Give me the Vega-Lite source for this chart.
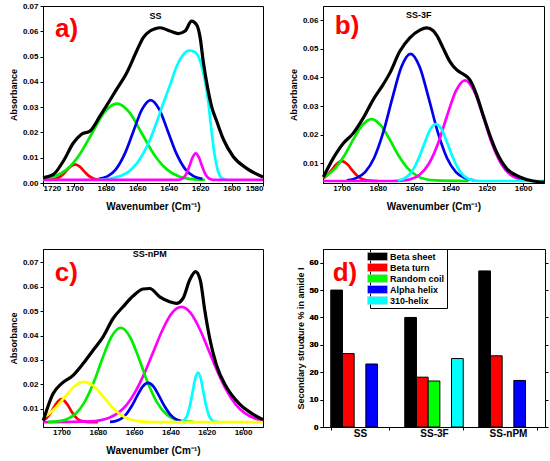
{
  "$schema": "https://vega.github.io/schema/vega-lite/v6.json",
  "background": "white",
  "padding": {"left": 8, "top": 1, "right": 5, "bottom": 5},
  "config": {
    "view": {"stroke": "black", "strokeWidth": 1},
    "axis": {
      "labelFont": "Liberation Sans", "labelFontWeight": "bold", "labelFontSize": 8, "labelColor": "black",
      "titleFont": "Liberation Sans", "titleFontWeight": "bold", "titleFontSize": 9, "titleColor": "black",
      "domainColor": "black", "tickColor": "black", "tickSize": 3, "labelPadding": 2, "titlePadding": 4, "grid": false
    },
    "axisX": {"titleFontSize": 10, "labelPadding": -2, "titlePadding": 9},
    "line": {"strokeWidth": 2.7, "interpolate": "monotone"},
    "text": {"font": "Liberation Sans", "fontWeight": "bold"},
    "legend": {"labelFont": "Liberation Sans", "labelFontWeight": "bold", "labelFontSize": 9, "labelColor": "black"}
  },
  "datasets": {
    "pa": [
      {"c": "r", "w": 1716, "a": 0.0012}, {"c": "r", "w": 1714.6, "a": 0.0013}, {"c": "r", "w": 1711.6, "a": 0.0017}, {"c": "r", "w": 1708.6, "a": 0.0027}, {"c": "r", "w": 1705.6, "a": 0.0045}, {"c": "r", "w": 1702.6, "a": 0.0065}, {"c": "r", "w": 1699.6, "a": 0.0074}, {"c": "r", "w": 1696.6, "a": 0.0065}, {"c": "r", "w": 1693.6, "a": 0.0045}, {"c": "r", "w": 1690.6, "a": 0.0027}, {"c": "r", "w": 1687.6, "a": 0.0017}, {"c": "r", "w": 1684.6, "a": 0.0013},
      {"c": "g", "w": 1720, "a": 0.0015}, {"c": "g", "w": 1713, "a": 0.0025}, {"c": "g", "w": 1705, "a": 0.0053}, {"c": "g", "w": 1697, "a": 0.011}, {"c": "g", "w": 1689, "a": 0.0195}, {"c": "g", "w": 1681, "a": 0.0279}, {"c": "g", "w": 1673, "a": 0.0314}, {"c": "g", "w": 1665, "a": 0.0279}, {"c": "g", "w": 1657, "a": 0.0195}, {"c": "g", "w": 1649, "a": 0.011}, {"c": "g", "w": 1641, "a": 0.0053}, {"c": "g", "w": 1633, "a": 0.0025}, {"c": "g", "w": 1625, "a": 0.0015}, {"c": "g", "w": 1617, "a": 0.0012},
      {"c": "b", "w": 1684.5, "a": 0.0016}, {"c": "b", "w": 1679, "a": 0.0026}, {"c": "b", "w": 1673.5, "a": 0.0055}, {"c": "b", "w": 1668, "a": 0.0115}, {"c": "b", "w": 1662.5, "a": 0.0204}, {"c": "b", "w": 1657, "a": 0.0291}, {"c": "b", "w": 1651.5, "a": 0.0328}, {"c": "b", "w": 1646, "a": 0.0291}, {"c": "b", "w": 1640.5, "a": 0.0204}, {"c": "b", "w": 1635, "a": 0.0115}, {"c": "b", "w": 1629.5, "a": 0.0055}, {"c": "b", "w": 1624, "a": 0.0026}, {"c": "b", "w": 1618.5, "a": 0.0016},
      {"c": "c", "w": 1684, "a": 0.0013}, {"c": "c", "w": 1676, "a": 0.0019}, {"c": "c", "w": 1670, "a": 0.003}, {"c": "c", "w": 1665, "a": 0.0047}, {"c": "c", "w": 1660, "a": 0.008}, {"c": "c", "w": 1656, "a": 0.0119}, {"c": "c", "w": 1652, "a": 0.017}, {"c": "c", "w": 1648, "a": 0.0235}, {"c": "c", "w": 1644, "a": 0.0306}, {"c": "c", "w": 1639, "a": 0.039}, {"c": "c", "w": 1635, "a": 0.0461}, {"c": "c", "w": 1631, "a": 0.0506}, {"c": "c", "w": 1627, "a": 0.0524}, {"c": "c", "w": 1624, "a": 0.052}, {"c": "c", "w": 1620, "a": 0.0483}, {"c": "c", "w": 1617, "a": 0.0405}, {"c": "c", "w": 1615, "a": 0.033}, {"c": "c", "w": 1613, "a": 0.022}, {"c": "c", "w": 1611, "a": 0.012}, {"c": "c", "w": 1609, "a": 0.0055}, {"c": "c", "w": 1606, "a": 0.0018}, {"c": "c", "w": 1603, "a": 0.0012},
      {"c": "m", "w": 1720, "a": 0.0012}, {"c": "m", "w": 1635, "a": 0.0012}, {"c": "m", "w": 1632.8, "a": 0.0014}, {"c": "m", "w": 1630.8, "a": 0.002}, {"c": "m", "w": 1628.8, "a": 0.0036}, {"c": "m", "w": 1626.8, "a": 0.0067}, {"c": "m", "w": 1624.8, "a": 0.0101}, {"c": "m", "w": 1622.8, "a": 0.0117}, {"c": "m", "w": 1620.8, "a": 0.0101}, {"c": "m", "w": 1618.8, "a": 0.0067}, {"c": "m", "w": 1616.8, "a": 0.0036}, {"c": "m", "w": 1614.8, "a": 0.002}, {"c": "m", "w": 1612.8, "a": 0.0014}, {"c": "m", "w": 1610.8, "a": 0.0012}, {"c": "m", "w": 1580, "a": 0.0012},
      {"c": "k", "w": 1720, "a": 0.0021}, {"c": "k", "w": 1713.4, "a": 0.0034}, {"c": "k", "w": 1707, "a": 0.0087}, {"c": "k", "w": 1700.7, "a": 0.0158}, {"c": "k", "w": 1695.5, "a": 0.0193}, {"c": "k", "w": 1690, "a": 0.0206}, {"c": "k", "w": 1683.7, "a": 0.0265}, {"c": "k", "w": 1673.1, "a": 0.0371}, {"c": "k", "w": 1666.7, "a": 0.0436}, {"c": "k", "w": 1660.4, "a": 0.0522}, {"c": "k", "w": 1656.2, "a": 0.0575}, {"c": "k", "w": 1651.9, "a": 0.0601}, {"c": "k", "w": 1648.7, "a": 0.061}, {"c": "k", "w": 1645.5, "a": 0.0614}, {"c": "k", "w": 1639.2, "a": 0.0601}, {"c": "k", "w": 1633.9, "a": 0.0591}, {"c": "k", "w": 1629.6, "a": 0.0601}, {"c": "k", "w": 1625.4, "a": 0.064}, {"c": "k", "w": 1622.2, "a": 0.0625}, {"c": "k", "w": 1620, "a": 0.0575}, {"c": "k", "w": 1618, "a": 0.048}, {"c": "k", "w": 1615.5, "a": 0.0385}, {"c": "k", "w": 1612.6, "a": 0.03}, {"c": "k", "w": 1609.5, "a": 0.0245}, {"c": "k", "w": 1605, "a": 0.017}, {"c": "k", "w": 1599, "a": 0.0105}, {"c": "k", "w": 1590.4, "a": 0.0058}, {"c": "k", "w": 1580, "a": 0.0024}
    ],
    "pb": [
      {"c": "r", "w": 1710, "a": 0.0049}, {"c": "r", "w": 1708.8, "a": 0.0054}, {"c": "r", "w": 1705.8, "a": 0.0074}, {"c": "r", "w": 1702.8, "a": 0.0097}, {"c": "r", "w": 1699.8, "a": 0.0108}, {"c": "r", "w": 1696.8, "a": 0.0097}, {"c": "r", "w": 1693.8, "a": 0.0074}, {"c": "r", "w": 1690.8, "a": 0.0054}, {"c": "r", "w": 1687.8, "a": 0.0044}, {"c": "r", "w": 1684.8, "a": 0.004}, {"c": "r", "w": 1680, "a": 0.0039},
      {"c": "g", "w": 1710, "a": 0.0052}, {"c": "g", "w": 1708.5, "a": 0.0057}, {"c": "g", "w": 1703.5, "a": 0.0083}, {"c": "g", "w": 1698.5, "a": 0.0127}, {"c": "g", "w": 1693.5, "a": 0.0184}, {"c": "g", "w": 1688.5, "a": 0.0234}, {"c": "g", "w": 1683.5, "a": 0.0255}, {"c": "g", "w": 1678.5, "a": 0.0234}, {"c": "g", "w": 1673.5, "a": 0.0184}, {"c": "g", "w": 1668.5, "a": 0.0127}, {"c": "g", "w": 1663.5, "a": 0.0083}, {"c": "g", "w": 1658.5, "a": 0.0057}, {"c": "g", "w": 1653.5, "a": 0.0045}, {"c": "g", "w": 1648.5, "a": 0.0041}, {"c": "g", "w": 1630, "a": 0.0039},
      {"c": "b", "w": 1697, "a": 0.0041}, {"c": "b", "w": 1692, "a": 0.0049}, {"c": "b", "w": 1687, "a": 0.007}, {"c": "b", "w": 1682, "a": 0.012}, {"c": "b", "w": 1677, "a": 0.0209}, {"c": "b", "w": 1672, "a": 0.0328}, {"c": "b", "w": 1667, "a": 0.0437}, {"c": "b", "w": 1662, "a": 0.0482}, {"c": "b", "w": 1657, "a": 0.0437}, {"c": "b", "w": 1652, "a": 0.0328}, {"c": "b", "w": 1647, "a": 0.0209}, {"c": "b", "w": 1642, "a": 0.012}, {"c": "b", "w": 1637, "a": 0.007}, {"c": "b", "w": 1632, "a": 0.0049}, {"c": "b", "w": 1627, "a": 0.0041},
      {"c": "m", "w": 1710, "a": 0.0039}, {"c": "m", "w": 1672, "a": 0.0039}, {"c": "m", "w": 1667, "a": 0.004}, {"c": "m", "w": 1662, "a": 0.0045}, {"c": "m", "w": 1657, "a": 0.0061}, {"c": "m", "w": 1652, "a": 0.0098}, {"c": "m", "w": 1647, "a": 0.0167}, {"c": "m", "w": 1642, "a": 0.0264}, {"c": "m", "w": 1637, "a": 0.0353}, {"c": "m", "w": 1632, "a": 0.039}, {"c": "m", "w": 1627, "a": 0.0353}, {"c": "m", "w": 1622, "a": 0.0264}, {"c": "m", "w": 1617, "a": 0.0167}, {"c": "m", "w": 1612, "a": 0.0098}, {"c": "m", "w": 1607, "a": 0.0061}, {"c": "m", "w": 1602, "a": 0.0045}, {"c": "m", "w": 1597, "a": 0.004},
      {"c": "c", "w": 1669, "a": 0.0041}, {"c": "c", "w": 1666, "a": 0.0046}, {"c": "c", "w": 1663, "a": 0.0059}, {"c": "c", "w": 1660, "a": 0.0085}, {"c": "c", "w": 1657, "a": 0.0126}, {"c": "c", "w": 1654, "a": 0.0176}, {"c": "c", "w": 1651, "a": 0.022}, {"c": "c", "w": 1648, "a": 0.0237}, {"c": "c", "w": 1645, "a": 0.022}, {"c": "c", "w": 1642, "a": 0.0176}, {"c": "c", "w": 1639, "a": 0.0126}, {"c": "c", "w": 1636, "a": 0.0085}, {"c": "c", "w": 1633, "a": 0.0059}, {"c": "c", "w": 1630, "a": 0.0046}, {"c": "c", "w": 1627, "a": 0.0041}, {"c": "c", "w": 1624, "a": 0.0039}, {"c": "c", "w": 1588.5, "a": 0.0039},
      {"c": "k", "w": 1710, "a": 0.0053}, {"c": "k", "w": 1704.6, "a": 0.0118}, {"c": "k", "w": 1699.1, "a": 0.017}, {"c": "k", "w": 1693.6, "a": 0.0205}, {"c": "k", "w": 1688.1, "a": 0.0258}, {"c": "k", "w": 1682.6, "a": 0.0322}, {"c": "k", "w": 1677.1, "a": 0.0375}, {"c": "k", "w": 1673.4, "a": 0.0415}, {"c": "k", "w": 1667.9, "a": 0.0491}, {"c": "k", "w": 1662.4, "a": 0.0538}, {"c": "k", "w": 1656.9, "a": 0.0565}, {"c": "k", "w": 1653.2, "a": 0.0573}, {"c": "k", "w": 1649.5, "a": 0.0563}, {"c": "k", "w": 1647.7, "a": 0.0548}, {"c": "k", "w": 1644.1, "a": 0.0503}, {"c": "k", "w": 1640.4, "a": 0.0456}, {"c": "k", "w": 1636.7, "a": 0.0427}, {"c": "k", "w": 1633.1, "a": 0.0412}, {"c": "k", "w": 1629.4, "a": 0.0392}, {"c": "k", "w": 1625.7, "a": 0.034}, {"c": "k", "w": 1622.1, "a": 0.027}, {"c": "k", "w": 1618.4, "a": 0.02}, {"c": "k", "w": 1614.7, "a": 0.0141}, {"c": "k", "w": 1609.2, "a": 0.0083}, {"c": "k", "w": 1601.9, "a": 0.0053}, {"c": "k", "w": 1594.6, "a": 0.0039}, {"c": "k", "w": 1588.5, "a": 0.0035}
    ],
    "pc": [
      {"c": "r", "w": 1710, "a": 0.0053}, {"c": "r", "w": 1709, "a": 0.0057}, {"c": "r", "w": 1706, "a": 0.0083}, {"c": "r", "w": 1703, "a": 0.012}, {"c": "r", "w": 1700, "a": 0.0139}, {"c": "r", "w": 1697, "a": 0.012}, {"c": "r", "w": 1694, "a": 0.0083}, {"c": "r", "w": 1691, "a": 0.0057}, {"c": "r", "w": 1688, "a": 0.0048}, {"c": "r", "w": 1685, "a": 0.0045}, {"c": "r", "w": 1680, "a": 0.0045},
      {"c": "m", "w": 1710, "a": 0.0045}, {"c": "m", "w": 1684, "a": 0.0048}, {"c": "m", "w": 1679, "a": 0.0052}, {"c": "m", "w": 1674, "a": 0.0062}, {"c": "m", "w": 1669, "a": 0.0082}, {"c": "m", "w": 1664, "a": 0.0117}, {"c": "m", "w": 1659, "a": 0.0174}, {"c": "m", "w": 1654, "a": 0.0251}, {"c": "m", "w": 1649, "a": 0.0341}, {"c": "m", "w": 1644, "a": 0.0429}, {"c": "m", "w": 1639, "a": 0.0494}, {"c": "m", "w": 1634, "a": 0.0518}, {"c": "m", "w": 1629, "a": 0.0494}, {"c": "m", "w": 1624, "a": 0.0429}, {"c": "m", "w": 1619, "a": 0.0341}, {"c": "m", "w": 1614, "a": 0.0251}, {"c": "m", "w": 1609, "a": 0.0174}, {"c": "m", "w": 1604, "a": 0.0117}, {"c": "m", "w": 1599, "a": 0.0082}, {"c": "m", "w": 1594, "a": 0.0062}, {"c": "m", "w": 1589, "a": 0.0052},
      {"c": "g", "w": 1707.4, "a": 0.0046}, {"c": "g", "w": 1702.4, "a": 0.0048}, {"c": "g", "w": 1697.4, "a": 0.0056}, {"c": "g", "w": 1692.4, "a": 0.0078}, {"c": "g", "w": 1687.4, "a": 0.0126}, {"c": "g", "w": 1682.4, "a": 0.0205}, {"c": "g", "w": 1677.4, "a": 0.0307}, {"c": "g", "w": 1672.4, "a": 0.0396}, {"c": "g", "w": 1667.4, "a": 0.0432}, {"c": "g", "w": 1662.4, "a": 0.0396}, {"c": "g", "w": 1657.4, "a": 0.0307}, {"c": "g", "w": 1652.4, "a": 0.0205}, {"c": "g", "w": 1647.4, "a": 0.0126}, {"c": "g", "w": 1642.4, "a": 0.0078}, {"c": "g", "w": 1637.4, "a": 0.0056}, {"c": "g", "w": 1632.4, "a": 0.0048}, {"c": "g", "w": 1627.4, "a": 0.0046},
      {"c": "b", "w": 1673.3, "a": 0.0046}, {"c": "b", "w": 1670.3, "a": 0.0049}, {"c": "b", "w": 1667.3, "a": 0.0058}, {"c": "b", "w": 1664.3, "a": 0.0078}, {"c": "b", "w": 1661.3, "a": 0.0111}, {"c": "b", "w": 1658.3, "a": 0.0153}, {"c": "b", "w": 1655.3, "a": 0.0191}, {"c": "b", "w": 1652.3, "a": 0.0206}, {"c": "b", "w": 1649.3, "a": 0.0191}, {"c": "b", "w": 1646.3, "a": 0.0153}, {"c": "b", "w": 1643.3, "a": 0.0111}, {"c": "b", "w": 1640.3, "a": 0.0078}, {"c": "b", "w": 1637.3, "a": 0.0058}, {"c": "b", "w": 1634.3, "a": 0.0049}, {"c": "b", "w": 1631.3, "a": 0.0046},
      {"c": "c", "w": 1634, "a": 0.0046}, {"c": "c", "w": 1632.3, "a": 0.0054}, {"c": "c", "w": 1630.8, "a": 0.0072}, {"c": "c", "w": 1629.3, "a": 0.0111}, {"c": "c", "w": 1627.8, "a": 0.0168}, {"c": "c", "w": 1626.3, "a": 0.0224}, {"c": "c", "w": 1624.8, "a": 0.0248}, {"c": "c", "w": 1623.3, "a": 0.0224}, {"c": "c", "w": 1621.8, "a": 0.0168}, {"c": "c", "w": 1620.3, "a": 0.0111}, {"c": "c", "w": 1618.8, "a": 0.0072}, {"c": "c", "w": 1617.3, "a": 0.0054}, {"c": "c", "w": 1615.8, "a": 0.0047}, {"c": "c", "w": 1613, "a": 0.0045},
      {"c": "y", "w": 1710, "a": 0.0065}, {"c": "y", "w": 1707.5, "a": 0.0076}, {"c": "y", "w": 1702.5, "a": 0.011}, {"c": "y", "w": 1697.5, "a": 0.0154}, {"c": "y", "w": 1692.5, "a": 0.0194}, {"c": "y", "w": 1687.5, "a": 0.021}, {"c": "y", "w": 1682.5, "a": 0.0194}, {"c": "y", "w": 1677.5, "a": 0.0154}, {"c": "y", "w": 1672.5, "a": 0.011}, {"c": "y", "w": 1667.5, "a": 0.0076}, {"c": "y", "w": 1662.5, "a": 0.0057}, {"c": "y", "w": 1657.5, "a": 0.0049}, {"c": "y", "w": 1652.5, "a": 0.0046}, {"c": "y", "w": 1647.5, "a": 0.0045}, {"c": "y", "w": 1589, "a": 0.0045},
      {"c": "k", "w": 1710, "a": 0.0052}, {"c": "k", "w": 1704.6, "a": 0.0162}, {"c": "k", "w": 1700, "a": 0.0203}, {"c": "k", "w": 1693.6, "a": 0.0237}, {"c": "k", "w": 1688.1, "a": 0.0285}, {"c": "k", "w": 1682.6, "a": 0.034}, {"c": "k", "w": 1677.1, "a": 0.0395}, {"c": "k", "w": 1671.6, "a": 0.047}, {"c": "k", "w": 1666.1, "a": 0.0518}, {"c": "k", "w": 1660.6, "a": 0.0562}, {"c": "k", "w": 1655.1, "a": 0.0591}, {"c": "k", "w": 1651.4, "a": 0.0593}, {"c": "k", "w": 1645.9, "a": 0.0559}, {"c": "k", "w": 1640.4, "a": 0.0539}, {"c": "k", "w": 1636.7, "a": 0.0532}, {"c": "k", "w": 1633.1, "a": 0.0552}, {"c": "k", "w": 1629.4, "a": 0.0628}, {"c": "k", "w": 1626.1, "a": 0.0662}, {"c": "k", "w": 1623.5, "a": 0.0625}, {"c": "k", "w": 1621.1, "a": 0.0505}, {"c": "k", "w": 1618.4, "a": 0.039}, {"c": "k", "w": 1614.7, "a": 0.028}, {"c": "k", "w": 1609.2, "a": 0.019}, {"c": "k", "w": 1602, "a": 0.012}, {"c": "k", "w": 1595, "a": 0.008}, {"c": "k", "w": 1589, "a": 0.0055}
    ],
    "pd": [
      {"s": "SS", "t": "Beta sheet", "v": 50}, {"s": "SS", "t": "Beta turn", "v": 26.8}, {"s": "SS", "t": "Alpha helix", "v": 23},
      {"s": "SS-3F", "t": "Beta sheet", "v": 40}, {"s": "SS-3F", "t": "Beta turn", "v": 18.2}, {"s": "SS-3F", "t": "Random coil", "v": 16.8}, {"s": "SS-3F", "t": "310-helix", "v": 25},
      {"s": "SS-nPM", "t": "Beta sheet", "v": 57}, {"s": "SS-nPM", "t": "Beta turn", "v": 26}, {"s": "SS-nPM", "t": "Alpha helix", "v": 17}
    ]
  },
  "resolve": {"scale": {"color": "independent"}, "legend": {"color": "independent"}},
  "bounds": "flush",
  "columns": 2,
  "spacing": {"row": 66, "column": 60},
  "concat": [
    {
      "width": 220, "height": 177,
      "encoding": {
        "x": {"field": "w", "type": "quantitative", "scale": {"domain": [1580, 1720], "reverse": true, "nice": false, "zero": false}, "axis": {"values": [1720, 1700, 1680, 1660, 1640, 1620, 1600, 1580], "format": "d", "title": "Wavenumber (Cm⁻¹)"}},
        "y": {"field": "a", "type": "quantitative", "scale": {"domain": [0, 0.07], "nice": false}, "axis": {"values": [0, 0.01, 0.02, 0.03, 0.04, 0.05, 0.06, 0.07], "format": ".2f", "title": "Absorbance"}}
      },
      "layer": [
        {"data": {"name": "pa"}, "transform": [{"filter": "datum.c != 'k'"}], "mark": {"type": "line"},
         "encoding": {"color": {"field": "c", "type": "nominal", "scale": {"domain": ["r", "g", "b", "c", "m", "y"], "range": ["#ff0000", "#00ee00", "#0000ee", "#00ffff", "#ff00ff", "#ffff00"]}, "legend": null}}},
        {"data": {"name": "pa"}, "transform": [{"filter": "datum.c == 'k'"}], "mark": {"type": "line", "color": "black", "strokeWidth": 3.2}, "encoding": {}},
        {"data": {"values": [{"w": 1712.4, "a": 0.0611, "t": "a)"}]}, "mark": {"type": "text", "color": "#ff0000", "fontSize": 26, "align": "left", "baseline": "middle"}, "encoding": {"text": {"field": "t"}}},
        {"data": {"values": [{"w": 1648.4, "a": 0.066, "t": "SS"}]}, "mark": {"type": "text", "color": "black", "fontSize": 9, "align": "center", "baseline": "middle"}, "encoding": {"text": {"field": "t"}}}
      ]
    },
    {
      "width": 221, "height": 177,
      "encoding": {
        "x": {"field": "w", "type": "quantitative", "scale": {"domain": [1588.5, 1710.2], "reverse": true, "nice": false, "zero": false}, "axis": {"values": [1700, 1680, 1660, 1640, 1620, 1600], "format": "d", "title": "Wavenumber (Cm⁻¹)"}},
        "y": {"field": "a", "type": "quantitative", "scale": {"domain": [0.0032, 0.0649], "nice": false, "zero": false}, "axis": {"values": [0.01, 0.02, 0.03, 0.04, 0.05, 0.06], "format": ".2f", "title": "Absorbance"}}
      },
      "layer": [
        {"data": {"name": "pb"}, "transform": [{"filter": "datum.c != 'k'"}], "mark": {"type": "line"},
         "encoding": {"color": {"field": "c", "type": "nominal", "scale": {"domain": ["r", "g", "b", "c", "m", "y"], "range": ["#ff0000", "#00ee00", "#0000ee", "#00ffff", "#ff00ff", "#ffff00"]}, "legend": null}}},
        {"data": {"name": "pb"}, "transform": [{"filter": "datum.c == 'k'"}], "mark": {"type": "line", "color": "black", "strokeWidth": 3.2}, "encoding": {}},
        {"data": {"values": [{"w": 1703.7, "a": 0.0578, "t": "b)"}]}, "mark": {"type": "text", "color": "#ff0000", "fontSize": 26, "align": "left", "baseline": "middle"}, "encoding": {"text": {"field": "t"}}},
        {"data": {"values": [{"w": 1657.5, "a": 0.0617, "t": "SS-3F"}]}, "mark": {"type": "text", "color": "black", "fontSize": 9, "align": "center", "baseline": "middle"}, "encoding": {"text": {"field": "t"}}}
      ]
    },
    {
      "width": 220, "height": 178,
      "encoding": {
        "x": {"field": "w", "type": "quantitative", "scale": {"domain": [1589, 1710.2], "reverse": true, "nice": false, "zero": false}, "axis": {"values": [1700, 1680, 1660, 1640, 1620, 1600], "format": "d", "title": "Wavenumber (Cm⁻¹)"}},
        "y": {"field": "a", "type": "quantitative", "scale": {"domain": [0.0025, 0.0755], "nice": false, "zero": false}, "axis": {"values": [0.01, 0.02, 0.03, 0.04, 0.05, 0.06, 0.07], "format": ".2f", "title": "Absorbance"}}
      },
      "layer": [
        {"data": {"name": "pc"}, "transform": [{"filter": "datum.c != 'k'"}], "mark": {"type": "line"},
         "encoding": {"color": {"field": "c", "type": "nominal", "scale": {"domain": ["r", "g", "b", "c", "m", "y"], "range": ["#ff0000", "#00ee00", "#0000ee", "#00ffff", "#ff00ff", "#ffff00"]}, "legend": null}}},
        {"data": {"name": "pc"}, "transform": [{"filter": "datum.c == 'k'"}], "mark": {"type": "line", "color": "black", "strokeWidth": 3.2}, "encoding": {}},
        {"data": {"values": [{"w": 1703.7, "a": 0.0658, "t": "c)"}]}, "mark": {"type": "text", "color": "#ff0000", "fontSize": 26, "align": "left", "baseline": "middle"}, "encoding": {"text": {"field": "t"}}},
        {"data": {"values": [{"w": 1651.4, "a": 0.0736, "t": "SS-nPM"}]}, "mark": {"type": "text", "color": "black", "fontSize": 9, "align": "center", "baseline": "middle"}, "encoding": {"text": {"field": "t"}}}
      ]
    },
    {
      "width": 222, "height": 178,
      "resolve": {"axis": {"y": "independent"}},
      "layer": [
        {"data": {"name": "pd"}, "mark": {"type": "bar", "stroke": "black", "strokeWidth": 1},
         "encoding": {
           "x": {"field": "s", "type": "nominal", "sort": ["SS", "SS-3F", "SS-nPM"], "scale": {"paddingInner": 0.21, "paddingOuter": 0.105}, "axis": {"title": null, "labelAngle": 0, "labelFontSize": 10, "tickBand": "extent", "labelPadding": -2}},
           "xOffset": {"field": "t", "type": "nominal", "sort": ["Beta sheet", "Beta turn", "Random coil", "Alpha helix", "310-helix"], "scale": {"paddingInner": 0, "paddingOuter": 0}},
           "y": {"field": "v", "type": "quantitative", "scale": {"domain": [0, 65], "nice": false}, "axis": {"values": [0, 10, 20, 30, 40, 50, 60], "title": "Secondary structure % in amide I"}},
           "color": {"field": "t", "type": "nominal", "sort": ["Beta sheet", "Beta turn", "Random coil", "Alpha helix", "310-helix"], "scale": {"domain": ["Beta sheet", "Beta turn", "Random coil", "Alpha helix", "310-helix"], "range": ["#000000", "#ff0000", "#00ff00", "#0000ff", "#00ffff"]},
             "legend": {"title": null, "orient": "none", "legendX": 47, "legendY": 0, "symbolType": "M-2,-0.8H2V0.8H-2Z", "symbolSize": 100, "symbolStrokeColor": "#cccccc", "symbolStrokeWidth": 0.5, "symbolOpacity": 1, "strokeColor": "black", "fillColor": "white", "padding": 2, "rowPadding": 0, "labelOffset": 7}}
         }},
        {"data": {"name": "pd"}, "mark": {"type": "tick", "opacity": 0},
         "encoding": {"y": {"field": "v", "type": "quantitative", "axis": {"orient": "right", "labels": false, "title": null, "values": [0, 10, 20, 30, 40, 50, 60], "domain": false}}}},
        {"data": {"values": [{"s": "SS", "v": 56.3, "t": "d)"}]}, "mark": {"type": "text", "color": "#ff0000", "fontSize": 26, "align": "center", "baseline": "middle", "dx": -15},
         "encoding": {"x": {"field": "s", "type": "nominal"}, "y": {"field": "v", "type": "quantitative"}, "text": {"field": "t"}}}
      ]
    }
  ]
}
